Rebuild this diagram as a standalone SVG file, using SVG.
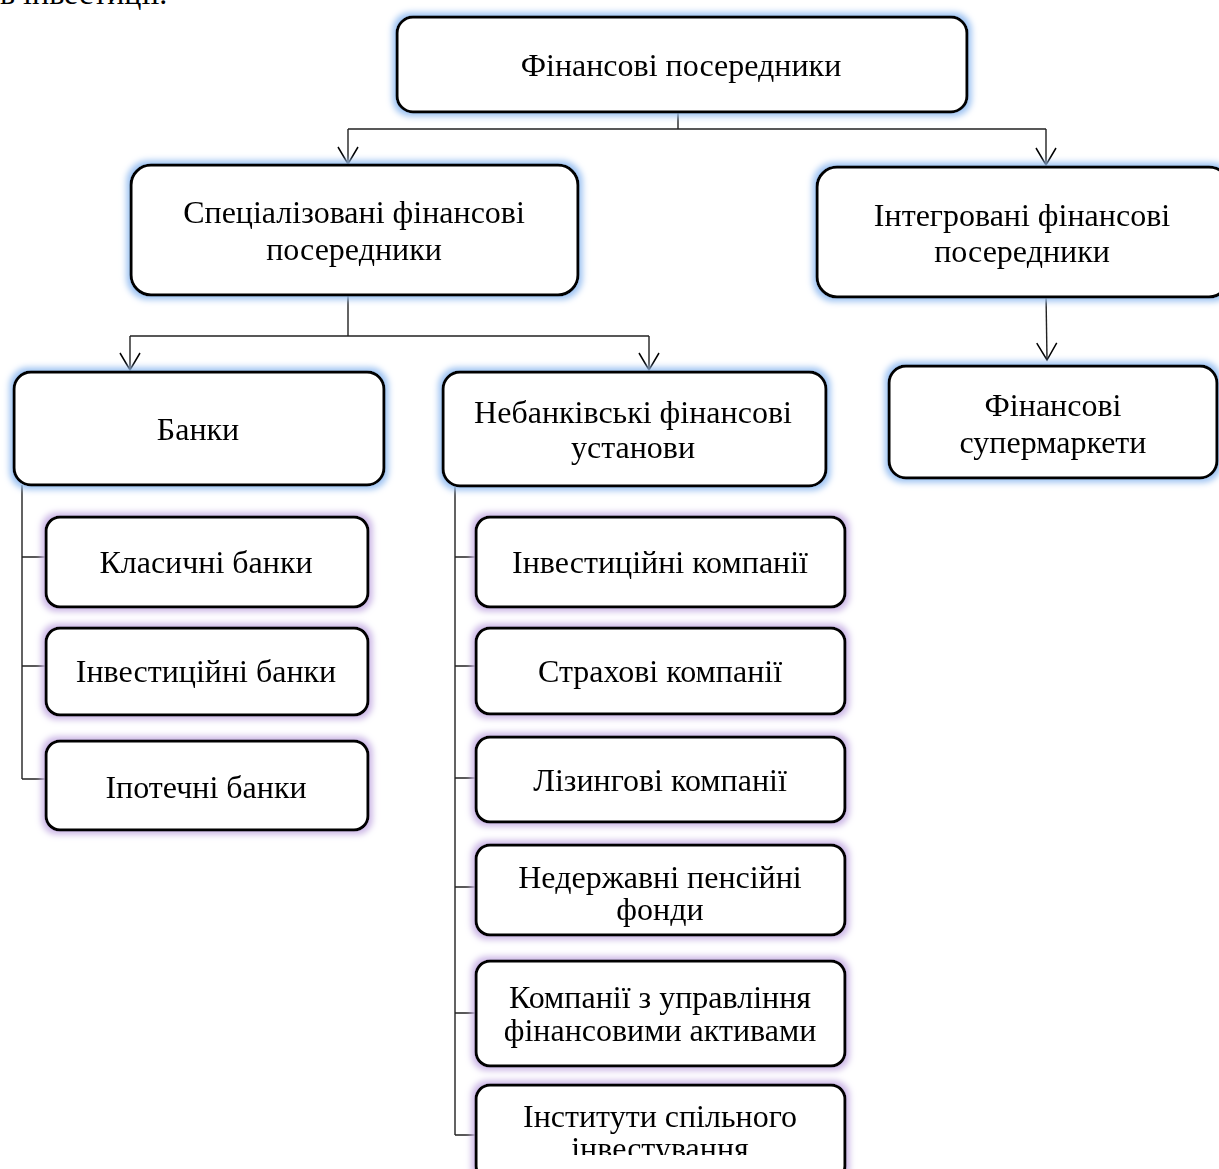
<svg xmlns="http://www.w3.org/2000/svg" width="1219" height="1169" viewBox="0 0 1219 1169">
<style>
.box{fill:#fff;stroke:#000;stroke-width:3}
.t{font-family:"Liberation Serif","Times New Roman",serif;font-size:32px;fill:#000;text-anchor:middle}
.c{fill:none;stroke:#222;stroke-width:1.4}
</style>
<defs>
<filter id="gb" x="-10%" y="-20%" width="120%" height="140%">
<feMorphology in="SourceAlpha" operator="dilate" radius="3" result="d"/>
<feGaussianBlur in="d" stdDeviation="3" result="b"/>
<feFlood flood-color="#9cc2f2"/>
<feComposite in2="b" operator="in" result="g"/>
<feMerge><feMergeNode in="g"/><feMergeNode in="SourceGraphic"/></feMerge>
</filter>
<filter id="gp" x="-10%" y="-20%" width="120%" height="140%">
<feMorphology in="SourceAlpha" operator="dilate" radius="3" result="d"/>
<feGaussianBlur in="d" stdDeviation="3" result="b"/>
<feFlood flood-color="#cbb6e6"/>
<feComposite in2="b" operator="in" result="g"/>
<feMerge><feMergeNode in="g"/><feMergeNode in="SourceGraphic"/></feMerge>
</filter>
<marker id="ar" viewBox="0 0 20 22" refX="18" refY="11" markerWidth="20" markerHeight="22" markerUnits="userSpaceOnUse" orient="auto">
<path d="M1 1 L18 11 L1 21" fill="none" stroke="#000" stroke-width="1.5"/>
</marker>
<clipPath id="clipLast"><rect x="470" y="1080" width="380" height="75"/></clipPath>
</defs>

<text x="0" y="4" style="font-family:'Liberation Serif','Times New Roman',serif;font-size:32px">в інвестиції.</text>

<g id="connectors">
<path class="c" d="M678 112 V129 M348 129 H1046"/>
<path class="c" d="M348 129 V164" marker-end="url(#ar)"/>
<path class="c" d="M1046 129 V165" marker-end="url(#ar)"/>
<path class="c" d="M1046 293 L1047 360" marker-end="url(#ar)"/>
<path class="c" d="M348 295 V336 M130 336 H649"/>
<path class="c" d="M130 336 V370" marker-end="url(#ar)"/>
<path class="c" d="M649 336 V370" marker-end="url(#ar)"/>
<path class="c" d="M22 485 V779 M22 557 H46 M22 666 H46 M22 779 H46"/>
<path class="c" d="M455 486 V1135 M455 557 H476 M455 666 H476 M455 778 H476 M455 887 H476 M455 1013 H476 M455 1135 H476"/>
</g>

<g id="n-root" filter="url(#gb)"><rect class="box" x="397" y="17" width="570" height="95" rx="16"/><text class="t" x="681" y="76">Фінансові посередники</text></g>
<g id="n-spec" filter="url(#gb)"><rect class="box" x="131" y="165" width="447" height="130" rx="20"/><text class="t" x="354" y="223">Спеціалізовані фінансові</text><text class="t" x="354" y="260">посередники</text></g>
<g id="n-integ" filter="url(#gb)"><rect class="box" x="817" y="167" width="412" height="130" rx="20"/><text class="t" x="1022" y="226">Інтегровані фінансові</text><text class="t" x="1022" y="262">посередники</text></g>
<g id="n-super" filter="url(#gb)"><rect class="box" x="889" y="366" width="328" height="112" rx="17"/><text class="t" x="1053" y="416">Фінансові</text><text class="t" x="1053" y="453">супермаркети</text></g>
<g id="n-banks" filter="url(#gb)"><rect class="box" x="14" y="372" width="370" height="113" rx="17"/><text class="t" x="198" y="440">Банки</text></g>
<g id="n-nonbank" filter="url(#gb)"><rect class="box" x="443" y="372" width="383" height="114" rx="17"/><text class="t" x="633" y="423">Небанківські фінансові</text><text class="t" x="633" y="458">установи</text></g>

<g id="n-classic" filter="url(#gp)"><rect class="box" x="46" y="517" width="322" height="90" rx="14"/><text class="t" x="206" y="573">Класичні банки</text></g>
<g id="n-invbank" filter="url(#gp)"><rect class="box" x="46" y="628" width="322" height="87" rx="14"/><text class="t" x="206" y="682">Інвестиційні банки</text></g>
<g id="n-mortgage" filter="url(#gp)"><rect class="box" x="46" y="741" width="322" height="89" rx="14"/><text class="t" x="206" y="798">Іпотечні банки</text></g>

<g id="n-invcomp" filter="url(#gp)"><rect class="box" x="476" y="517" width="369" height="90" rx="14"/><text class="t" x="660" y="573">Інвестиційні компанії</text></g>
<g id="n-insur" filter="url(#gp)"><rect class="box" x="476" y="628" width="369" height="86" rx="14"/><text class="t" x="660" y="682">Страхові компанії</text></g>
<g id="n-leasing" filter="url(#gp)"><rect class="box" x="476" y="737" width="369" height="85" rx="14"/><text class="t" x="660" y="791">Лізингові компанії</text></g>
<g id="n-pension" filter="url(#gp)"><rect class="box" x="476" y="845" width="369" height="90" rx="14"/><text class="t" x="660" y="888">Недержавні пенсійні</text><text class="t" x="660" y="920">фонди</text></g>
<g id="n-asset" filter="url(#gp)"><rect class="box" x="476" y="961" width="369" height="105" rx="14"/><text class="t" x="660" y="1008">Компанії з управління</text><text class="t" x="660" y="1041">фінансовими активами</text></g>
<g id="n-collective" filter="url(#gp)"><rect class="box" x="476" y="1085" width="369" height="95" rx="14"/><g clip-path="url(#clipLast)"><text class="t" x="660" y="1127">Інститути спільного</text><text class="t" x="660" y="1159">інвестування</text></g></g>
</svg>
